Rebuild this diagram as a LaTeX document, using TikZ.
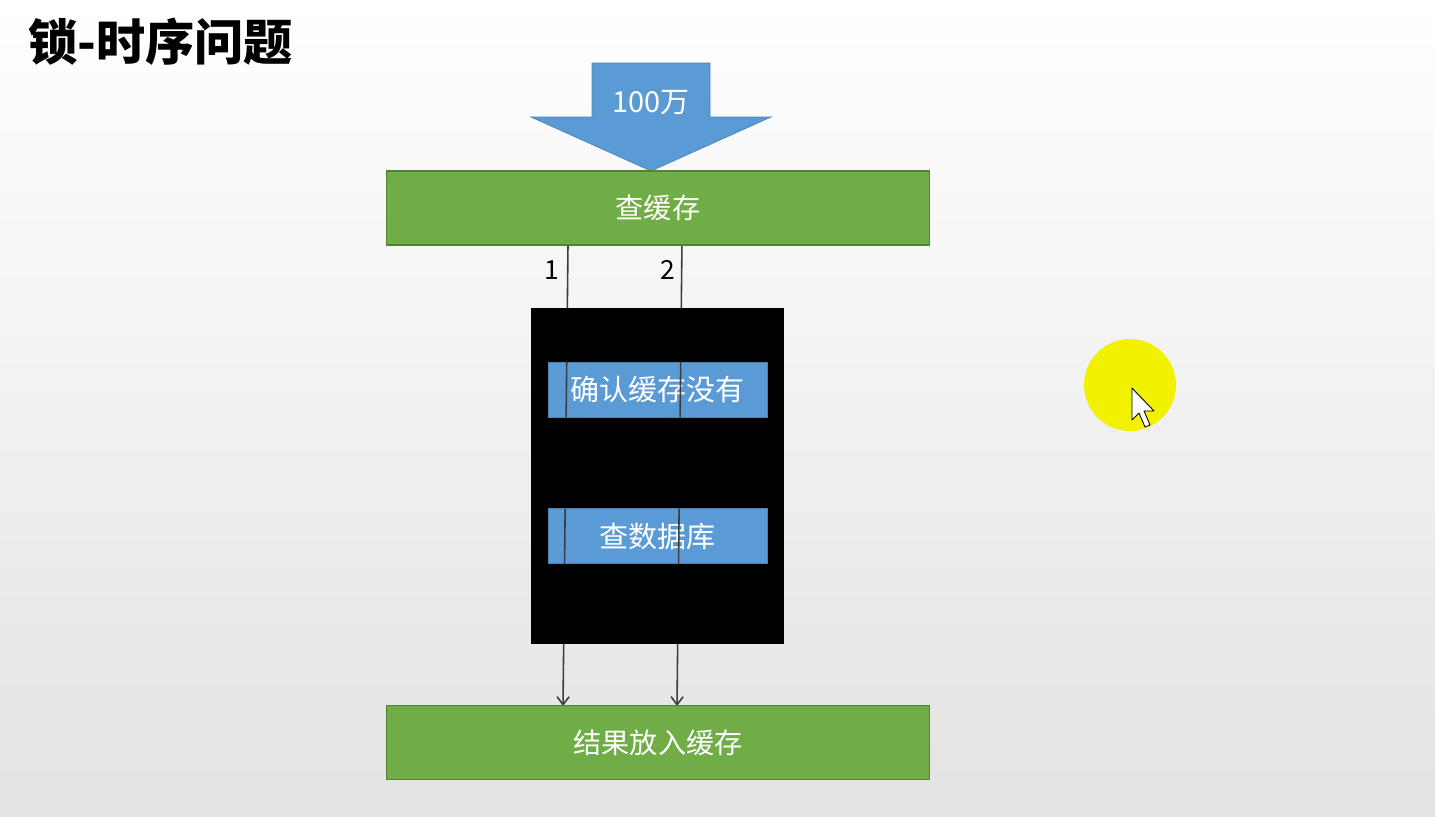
\documentclass[tikz,border=0pt]{standalone}
\usepackage{fontspec}
\setmainfont{Liberation Sans}
\newfontfamily\cjk{Noto Sans CJK SC}
\usetikzlibrary{arrows.meta,positioning,calc}
\definecolor{cachegreen}{HTML}{70AD47}
\definecolor{cacheedge}{HTML}{548235}
\definecolor{stepblue}{HTML}{5B9BD5}
\definecolor{stepedge}{HTML}{4A84B8}
\definecolor{wire}{HTML}{3C3C3C}
\definecolor{spot}{HTML}{F2F200}
\tikzset{
  stage/.style={draw=cacheedge, fill=cachegreen, line width=0.6pt, text=white,
                minimum width=10.88cm, minimum height=1.48cm, inner sep=0pt,
                font=\cjk\fontsize{16}{16}\selectfont},
  lockbox/.style={fill=black, minimum width=5.06cm, minimum height=6.72cm, inner sep=0pt},
  inlock/.style={draw=stepedge, fill=stepblue, line width=0.5pt, text=white,
                 minimum width=4.38cm, minimum height=1.1cm, inner sep=0pt,
                 font=\cjk\fontsize{16.5}{16.5}\selectfont},
  thread/.style={draw=wire, line width=0.9pt},
  threadarrow/.style={thread, -{Straight Barb[length=1.6mm, width=2.4mm, line width=0.9pt]}},
  threadno/.style={font=\cjk\fontsize{15}{15}\selectfont, text=black}
}
\begin{document}
\begin{tikzpicture}[x=0.02cm, y=-0.02cm]
% background
\shade[top color=white, bottom color=gray!22] (0,0) rectangle (1435,816);
\useasboundingbox (0,0) rectangle (1435,816);

\node[anchor=west, font=\cjk\bfseries\fontsize{28}{28}\selectfont] (title) at (22,42) {锁-时序问题};

% incoming requests
\fill[stepblue, draw=stepedge, line width=0.4pt]
  (592,63) -- (710,63) -- (710,117) -- (771,117) -- (651,171) -- (531,117) -- (592,117) -- cycle;
\node[text=white, font=\cjk\fontsize{16.5}{16.5}\selectfont] (load) at (651,103) {100万};

% two threads
\coordinate (in1) at (568,245);
\coordinate (in2) at (682,240);
\coordinate (out1) at (563,706);
\coordinate (out2) at (677,706);
\draw[threadarrow] (in1) -- (out1);
\draw[threadarrow] (in2) -- (out2);
\node[threadno] (n1) at (552,270) {1};
\node[threadno] (n2) at (668,270) {2};

\node[stage] (cache) at (658,208) {查缓存};
\node[lockbox] (lock) at (657.5,476) {};
\node[inlock] (check) at (657.5,389.5) {确认缓存没有};
\node[inlock, below=1.82cm of check] (db) {查数据库};
\node[stage] (put) at (658,742.5) {结果放入缓存};

% threads seen through the steps
\begin{scope}
  \clip (check.south west) rectangle (check.north east)
        (db.south west) rectangle (db.north east);
  \draw[thread] (in1) -- (out1);
  \draw[thread] (in2) -- (out2);
\end{scope}

% pointer
\fill[spot] (1130,385) circle (46);
\draw[fill=white, line width=0.5pt, line join=round]
  (1132,388) -- (1132,420) -- (1139,413) -- (1145,427) -- (1150,425) -- (1144,411) -- (1154,411) -- cycle;
\end{tikzpicture}
\end{document}
